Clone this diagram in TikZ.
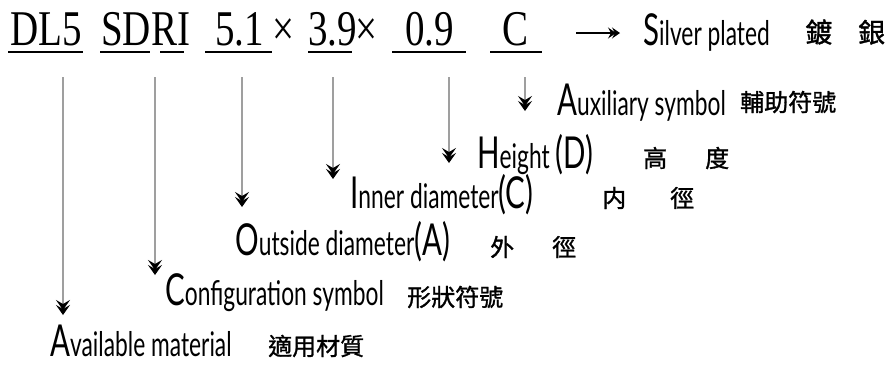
\documentclass[tikz,border=0pt]{standalone}
\usepackage{fontspec}
\setmainfont{Liberation Serif}
\newfontfamily\codefont[FakeStretch=0.78]{Liberation Serif}
\newfontfamily\handfont[FakeStretch=0.67]{Lato}
\newfontfamily\cjkfont[FakeBold=1.2]{Noto Sans CJK TC}
\usetikzlibrary{arrows.meta}
% larger initial capitals of the hand lettering
\newcommand\bigini[1]{{\fontsize{44}{44}\selectfont #1}}

\tikzset{
  code/.style={font=\codefont\fontsize{50}{50}\selectfont, inner sep=0pt, anchor=base west},
  hand/.style={font=\handfont\fontsize{34}{34}\selectfont, inner sep=0pt, anchor=base west},
  zh/.style={font=\cjkfont\fontsize{24}{24}\selectfont, inner sep=0pt, anchor=west},
  uline/.style={line width=2.6pt},
  fletch/.style={-{Stealth[black, length=10pt, width=14pt, inset=4pt, sep=-5pt] Stealth[black, length=10pt, width=14pt, inset=4pt]}},
  arr/.style={gray!75, line width=1.4pt, fletch},
}

\begin{document}
\begin{tikzpicture}[x=1pt, y=-1pt]
    \useasboundingbox (0,0) rectangle (891,365);
    % part number
    \node[code] (dl5) at (10,45) {DL5};
    \node[code] (sdri) at (101,45) {SDRI};
    \node[code] (od) at (215,45) {5.1};
    \node[code] (x1) at (272,45) {×};
    \node[code] (id) at (308,45) {3.9};
    \node[code] (x2) at (355,45) {×};
    \node[code] (hgt) at (405,45) {0.9};
    \node[code] (aux) at (502,45) {C};
    \draw[uline] (8,52) -- (83,52) (100,52) -- (150,52) (160,52) -- (184,52)
      (205,52) -- (272,52) (308,52) -- (352,52) (392,52) -- (466,52) (490,52) -- (542,52);
    % plating
    \node[hand] (silver) at (643,45) {\bigini{S}ilver plated};
    \node[zh, font=\cjkfont\fontsize{27}{27}\selectfont] (silver-zh) at (805,32) {鍍\hspace{26pt}銀};
    \coordinate (plate-a) at (576,33);
    \coordinate (plate-b) at (620,33);
    \draw[black, line width=1.1pt, -{Stealth[length=8pt, width=11pt, inset=3pt, sep=-4pt] Stealth[length=8pt, width=11pt, inset=3pt]}] (plate-a) -- (plate-b);
    % explanations
    \node[hand] (aux-lbl) at (557,115) {\bigini{A}uxiliary symbol};
    \node[zh] (aux-zh) at (740,102) {輔助符號};
    \node[hand] (hgt-lbl) at (477,168) {\bigini{H}eight \bigini{(D)}};
    \node[zh] (hgt-zh) at (643,158) {高\hspace{38pt}度};
    \node[hand] (id-lbl) at (350,208) {\bigini{I}nner diameter\bigini{(C)}};
    \node[zh] (id-zh) at (602,198) {内\hspace{44pt}徑};
    \node[hand] (od-lbl) at (235,255) {\bigini{O}utside diameter\bigini{(A)}};
    \node[zh] (od-zh) at (490,247) {外\hspace{38pt}徑};
    \node[hand] (sdri-lbl) at (165,305) {\bigini{C}onfiguration symbol};
    \node[zh] (sdri-zh) at (407,297) {形狀符號};
    \node[hand] (dl5-lbl) at (50,356) {\bigini{A}vailable material};
    \node[zh] (dl5-zh) at (268,346) {適用材質};
    % leaders
    \foreach \n/\x/\y in {dl5/63/315, sdri/155/275, od/242/207, id/333/179, hgt/449/163, aux/525/111} {
      \coordinate (\n-top) at (\x,77);
      \coordinate (\n-tip) at (\x,\y);
      \draw[arr] (\n-top) -- (\n-tip);
    }
\end{tikzpicture}
\end{document}
